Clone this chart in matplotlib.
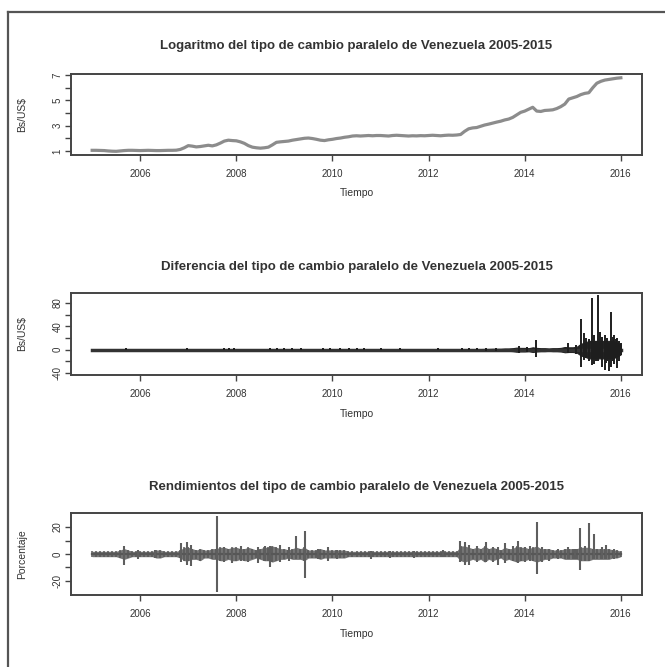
import numpy as np
import matplotlib
matplotlib.use("Agg")
import matplotlib.pyplot as plt
from matplotlib.lines import Line2D

plt.rcParams['font.family'] = ['Liberation Sans', 'DejaVu Sans']

# monthly points, Jan 2005 .. Jan 2016
fechas = 2005 + np.arange(133) / 12.0

# log of parallel exchange rate (monthly reading)
log_tc = [
    1.05, 1.05, 1.04, 1.03, 1.00, 0.98, 0.97, 1.00, 1.03, 1.05, 1.05, 1.04,
    1.03, 1.04, 1.05, 1.04, 1.03, 1.03, 1.04, 1.05, 1.05, 1.06, 1.12, 1.25,
    1.42, 1.38, 1.32, 1.35, 1.40, 1.45, 1.40, 1.48, 1.62, 1.78, 1.85, 1.82,
    1.80, 1.72, 1.60, 1.42, 1.30, 1.25, 1.22, 1.25, 1.30, 1.48, 1.68, 1.72,
    1.75, 1.78, 1.85, 1.90, 1.95, 2.00, 2.02, 1.98, 1.92, 1.85, 1.82, 1.88,
    1.92, 1.98, 2.02, 2.08, 2.12, 2.18, 2.20, 2.18, 2.20, 2.22, 2.20, 2.22,
    2.22, 2.20, 2.18, 2.22, 2.24, 2.22, 2.20, 2.18, 2.20, 2.19, 2.21, 2.20,
    2.22, 2.24, 2.22, 2.20, 2.23, 2.25, 2.24, 2.26, 2.30, 2.55, 2.75, 2.82,
    2.85, 2.95, 3.05, 3.12, 3.20, 3.28, 3.35, 3.45, 3.52, 3.65, 3.85, 4.05,
    4.15, 4.30, 4.45, 4.15, 4.12, 4.20, 4.22, 4.25, 4.35, 4.50, 4.70, 5.10,
    5.20, 5.30, 5.45, 5.55, 5.60, 6.00, 6.35, 6.50, 6.60, 6.65, 6.70, 6.75,
    6.78,
]

# first difference: monthly noise band (+/-) and isolated spikes
dif_band = [
    0.6, 0.6, 0.6, 0.6, 0.6, 0.6, 0.6, 0.6, 0.6, 0.6, 0.6, 0.6,
    0.6, 0.6, 0.6, 0.6, 0.6, 0.6, 0.6, 0.6, 0.6, 0.6, 0.6, 0.6,
    0.6, 0.6, 0.6, 0.6, 0.6, 0.6, 0.6, 0.6, 0.6, 0.8, 0.8, 0.8,
    0.8, 0.6, 0.6, 0.6, 0.6, 0.6, 0.6, 0.6, 0.8, 0.8, 0.8, 0.8,
    0.8, 0.8, 0.8, 0.8, 0.8, 0.6, 0.6, 0.6, 0.6, 0.8, 0.8, 0.8,
    0.8, 0.8, 0.8, 0.8, 0.8, 0.8, 0.8, 0.8, 0.8, 0.8, 0.6, 0.6,
    0.6, 0.6, 0.6, 0.6, 0.6, 0.6, 0.6, 0.6, 0.6, 0.6, 0.6, 0.6,
    0.6, 0.6, 0.6, 0.6, 0.6, 0.6, 0.6, 0.6, 0.8, 0.8, 1.0, 1.0,
    1.0, 1.0, 1.2, 1.2, 1.5, 1.5, 1.5, 2.0, 2.0, 2.5, 3.5, 3.0,
    3.0, 2.5, 4.0, 3.0, 2.5, 2.5, 2.0, 2.5, 2.5, 3.0, 4.5, 4.0,
    4.0, 5.0, 10.0, 12.0, 15.0, 15.0, 15.0, 15.0, 15.0, 15.0, 15.0, 12.0,
    8.0,
]
dif_spk_x = [2005.70, 2006.97, 2007.75, 2007.85, 2007.95, 2008.70, 2008.85,
             2009.00, 2009.15, 2009.35, 2009.80, 2009.95, 2010.15, 2010.35,
             2010.50, 2010.65, 2011.00, 2011.40, 2012.20, 2012.70, 2012.85,
             2013.00, 2013.20, 2013.40, 2013.88, 2014.05, 2014.24, 2014.90,
             2015.06, 2015.18, 2015.23, 2015.28, 2015.33, 2015.40, 2015.45,
             2015.49, 2015.53, 2015.57, 2015.60, 2015.66, 2015.70, 2015.72,
             2015.76, 2015.80, 2015.83, 2015.86, 2015.90, 2015.93, 2015.97,
             2016.00]
dif_spk_hi = [2, 2, 3, 3, 3, 2.5, 2.5, 2.5, 2.5, 2.5, 2.5, 2.5, 2.5, 2.5,
              2.5, 2.5, 2, 2, 2, 2.5, 2.5, 2.5, 3, 3, 7, 5, 17, 11,
              8, 52, 28, 20, 18, 88, 25, 15, 94, 30, 22, 25, 15, 20,
              12, 65, 22, 25, 18, 20, 15, 12]
dif_spk_lo = [-1, -1, -1, -1, -1, -1, -1, -1, -1, -1, -1, -1, -1, -1,
              -1, -1, -1, -1, -1, -1, -1, -1, -1.5, -1.5, -6, -4, -12, -5,
              -8, -30, -18, -15, -20, -26, -25, -20, -20, -15, -30, -34, -22, -20,
              -37, -30, -20, -25, -15, -31, -20, -10]

# returns (%): monthly noise band and isolated spikes
ret_band_hi = [
    2, 2, 2, 2, 2, 2, 2, 3, 4, 3, 2, 2,
    2, 2, 2, 2, 3, 3, 2, 2, 2, 2, 3, 5,
    5, 4, 3, 4, 3, 3, 4, 4, 5, 5, 4, 5,
    5, 4, 4, 5, 4, 3, 4, 5, 5, 6, 5, 4,
    4, 3, 4, 5, 4, 5, 3, 3, 3, 4, 3, 3,
    3, 3, 3, 3, 2, 2, 2, 2, 2, 2, 2, 2,
    2, 2, 2, 2, 2, 2, 2, 2, 2, 2, 2, 2,
    2, 2, 2, 2, 2, 2, 2, 2, 6, 6, 5, 4,
    5, 4, 6, 4, 5, 4, 3, 5, 4, 4, 6, 5,
    5, 4, 5, 6, 4, 4, 4, 3, 3, 3, 4, 4,
    4, 4, 5, 5, 5, 4, 4, 4, 4, 4, 3, 3,
    2,
]
ret_band_lo = [
    -2, -2, -2, -2, -2, -2, -2, -3, -4, -3, -2, -2,
    -2, -2, -2, -2, -3, -3, -2, -2, -2, -2, -3, -5,
    -5, -4, -4, -5, -3, -3, -4, -4, -5, -5, -4, -5,
    -5, -4, -5, -5, -4, -3, -4, -5, -5, -6, -5, -4,
    -4, -3, -4, -4, -4, -5, -3, -3, -3, -4, -3, -3,
    -3, -3, -3, -3, -2, -2, -2, -2, -2, -2, -2, -2,
    -2, -2, -2, -2, -2, -2, -2, -2, -2, -2, -2, -2,
    -2, -2, -2, -2, -2, -2, -2, -2, -5, -6, -5, -4,
    -5, -4, -6, -4, -5, -4, -3, -5, -4, -5, -6, -5,
    -5, -4, -5, -6, -5, -4, -4, -3, -3, -3, -4, -4,
    -4, -4, -5, -5, -5, -4, -4, -4, -4, -4, -3, -3,
    -2,
]
ret_spk_x = [2005.67, 2005.95, 2006.30, 2006.85, 2006.97, 2007.05, 2007.60,
             2007.75, 2007.90, 2008.10, 2008.25, 2008.45, 2008.60, 2008.70,
             2008.90, 2009.10, 2009.25, 2009.42, 2009.70, 2009.90, 2010.10,
             2010.80, 2011.20, 2011.70, 2012.30, 2012.65, 2012.75, 2012.85,
             2013.00, 2013.20, 2013.35, 2013.45, 2013.60, 2013.75, 2013.85,
             2014.00, 2014.10, 2014.25, 2014.35, 2014.50, 2014.70, 2014.90,
             2015.05, 2015.16, 2015.25, 2015.33, 2015.45, 2015.60, 2015.70,
             2015.85]
ret_spk_hi = [6, 3, 3, 8, 9, 7, 28, 5, 4, 6, 4, 5, 6, 6, 7, 5, 13, 17, 4,
              5, 3, 2, 2, 2, 3, 10, 9, 7, 6, 9, 5, 5, 8, 6, 10, 5, 6, 24,
              5, 4, 4, 5, 4, 19, 6, 23, 15, 5, 7, 4]
ret_spk_lo = [-8, -4, -3, -6, -8, -9, -28, -6, -7, -5, -6, -7, -5, -10,
              -6, -5, -3, -18, -4, -5, -4, -4, -3, -3, -2, -6, -8, -8, -6,
              -6, -6, -8, -7, -5, -7, -6, -5, -15, -6, -5, -4, -4, -4, -12,
              -5, -5, -4, -4, -4, -4]

titulos = [
    "Logaritmo del tipo de cambio paralelo de Venezuela 2005-2015",
    "Diferencia del tipo de cambio paralelo de Venezuela 2005-2015",
    "Rendimientos del tipo de cambio paralelo de Venezuela 2005-2015",
]
ylabels = ["Bs/US$", "Bs/US$", "Porcentaje"]

W, H = 665, 667
fig = plt.figure(figsize=(W / 100, H / 100), dpi=100)

# outer frame (left + top visible)
fig.add_artist(Line2D([8 / W, 8 / W], [0, 1 - 12 / H], color='#555555', lw=1.6))
fig.add_artist(Line2D([8 / W, 1], [1 - 12 / H, 1 - 12 / H], color='#555555', lw=1.6))

left, right = 71 / W, 642 / W
tops = [74, 293, 513]
bots = [155, 375, 595]
title_y = [46, 267, 487]
xlab_y = [193, 414, 634]

axes = []
for i in range(3):
    ax = fig.add_axes([left, 1 - bots[i] / H, right - left, (bots[i] - tops[i]) / H])
    axes.append(ax)
    for s in ax.spines.values():
        s.set_color('#444444')
        s.set_linewidth(1.4)
    ax.set_xlim(2004.56, 2016.44)
    ax.set_xticks([2006, 2008, 2010, 2012, 2014, 2016])
    ax.tick_params(axis='both', direction='out', length=4, width=1.0,
                   color='#444444', labelsize=7, labelcolor='#333333', pad=2)
    ax.tick_params(axis='x', pad=6)
    fig.text((left + right) / 2, 1 - title_y[i] / H, titulos[i], ha='center',
             va='center', fontsize=9.5, fontweight='bold', color='#333333')
    fig.text((left + right) / 2, 1 - xlab_y[i] / H, "Tiempo", ha='center',
             va='center', fontsize=7.5, color='#333333')
    fig.text(22 / W, 1 - (tops[i] + bots[i]) / 2 / H, ylabels[i], ha='center',
             va='center', rotation=90, fontsize=7.5, color='#333333')

# panel 1
ax = axes[0]
ax.plot(fechas, log_tc, color='#8c8c8c', lw=2.3)
ax.set_ylim(0.68, 7.08)
ax.set_yticks([1, 2, 3, 4, 5, 6, 7])
ax.set_yticklabels(['1', '', '3', '', '5', '', '7'], rotation=90, va='center')

# panel 2
ax = axes[1]
dif_band = np.array(dif_band)
ax.fill_between(fechas, -dif_band, dif_band, color='#222222', lw=0.8,
                edgecolor='#222222')
ax.plot([fechas[0], fechas[-1]], [0, 0], color='#333333', lw=2.5)
ax.vlines(dif_spk_x, dif_spk_lo, dif_spk_hi, color='#1e1e1e', lw=1.4)
ax.set_ylim(-43.4, 97)
ax.set_yticks([-40, -20, 0, 20, 40, 60, 80])
ax.set_yticklabels(['-40', '', '0', '', '40', '', '80'], rotation=90, va='center')

# panel 3
ax = axes[2]
ax.fill_between(fechas, ret_band_lo, ret_band_hi, color='#767676', lw=0)
ax.vlines(fechas, ret_band_lo, ret_band_hi, color='#575757', lw=1.1)
ax.plot(fechas, np.zeros(len(fechas)), color='#575757', lw=1.6)
ax.vlines(ret_spk_x, ret_spk_lo, ret_spk_hi, color='#5e5e5e', lw=1.5)
ax.set_ylim(-30.4, 30.4)
ax.set_yticks([-20, -10, 0, 10, 20])
ax.set_yticklabels(['-20', '', '0', '', '20'], rotation=90, va='center')

fig.savefig("out.png", dpi=100)
